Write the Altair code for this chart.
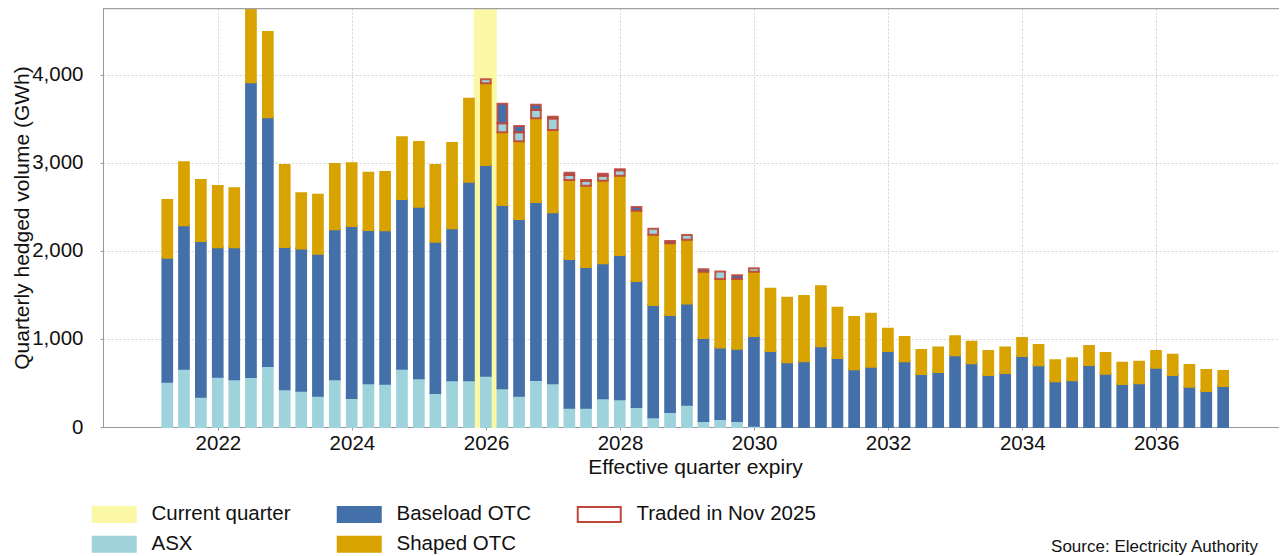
import altair as alt
import pandas as pd

# ---------------- data ----------------
quarter_expiry = [d.strftime("%Y-%m-%d") for d in pd.date_range("2021-03-31", periods=64, freq="QE")]

asx = [515, 663, 345, 572, 542, 568, 693, 428, 413, 356, 542, 330, 496, 492, 663, 553,
       386, 530, 530, 583, 439, 356, 534, 496, 220, 220, 326, 314, 227, 110, 170, 254,
       68, 91, 68, 15, 0, 0, 0, 0, 0, 0, 0, 0, 0, 0, 0, 0,
       0, 0, 0, 0, 0, 0, 0, 0, 0, 0, 0, 0, 0, 0, 0, 0]
baseload = [1409, 1629, 1769, 1470, 1500, 3349, 2826, 1617, 1614, 1614, 1704, 1954, 1743, 1743, 1928, 1951,
            1720, 1728, 2258, 2394, 2084, 2008, 2023, 1943, 1689, 1598, 1534, 1641, 1432, 1276, 1103, 1148,
            943, 811, 822, 1019, 864, 735, 746, 917, 784, 655, 686, 864, 746, 602, 625, 814,
            723, 591, 614, 807, 701, 519, 530, 705, 606, 489, 496, 674, 591, 458, 409, 466]
shaped = [656, 716, 693, 697, 670, 843, 970, 932, 628, 670, 743, 712, 651, 663, 701, 735,
          871, 969, 943, 928, 826, 883, 951, 936, 898, 924, 939, 901, 799, 799, 815, 726,
          754, 780, 792, 731, 708, 735, 743, 682, 572, 595, 602, 253, 277, 273, 277, 216,
          247, 273, 288, 204, 231, 239, 250, 215, 235, 242, 246, 190, 231, 247, 239, 170]
traded_asx = [0] * 19 + [45, 102, 103, 94, 131, 55, 55, 55, 60, 0, 68, 0, 53, 0, 85, 0, 39] + [0] * 28
traded_baseload = [0] * 19 + [0, 223, 70, 60, 20, 28, 10, 25, 13, 42, 0, 26, 0, 27, 0, 42, 0] + [0] * 28

current_quarter = ["2025-11-01", "2026-02-23"]
# legend is filled column by column
series_names = ["Current quarter", "ASX", "Baseload OTC", "Shaped OTC", "Traded in Nov 2025"]
fill_colors = ["#faf7a5", "#9ed3dc", "#4470aa", "#d8a300", "#ffffff"]
stroke_colors = ["#faf7a5", "#9ed3dc", "#4470aa", "#d8a300", "#c0463a"]
source_text = "Source: Electricity Authority"

rows = []
for i, d in enumerate(quarter_expiry):
    rows.append(dict(date=d, series="ASX", value=asx[i], ord=1, traded=False))
    rows.append(dict(date=d, series="Baseload OTC", value=baseload[i], ord=2, traded=False))
    rows.append(dict(date=d, series="Shaped OTC", value=shaped[i], ord=3, traded=False))
    rows.append(dict(date=d, series="ASX", value=traded_asx[i], ord=4, traded=True))
    rows.append(dict(date=d, series="Baseload OTC", value=traded_baseload[i], ord=5, traded=True))
df = pd.DataFrame(rows)

band_df = pd.DataFrame({"start": [current_quarter[0]], "end": [current_quarter[1]], "series": ["Current quarter"]})

# ---------------- style ----------------
W, H = 1176, 419
FONT = "Liberation Sans"
RED = "#c0463a"
SYMBOL = "M-2.867,-1L2.867,-1L2.867,1L-2.867,1Z"

xscale = alt.Scale(type="utc", domain=[alt.DateTime(year=2020, month=5, date=12, utc=True),
                                       alt.DateTime(year=2037, month=10, date=4, utc=True)])
yscale = alt.Scale(domain=[0, 4761], nice=False, zero=True)

xaxis = alt.Axis(values=[alt.DateTime(year=y, month=1, date=1, utc=True) for y in range(2022, 2037, 2)],
                 format="%Y", formatType="utc", title="Effective quarter expiry",
                 titleX=W / 2 + 4, titleY=46, titleBaseline="alphabetic", titleAlign="center",
                 labelPadding=3, labelFlush=False, labelOverlap=False)
yaxis = alt.Axis(values=[0, 1000, 2000, 3000, 4000], format=",d", title="Quarterly hedged volume (GWh)",
                 titleX=-81, titleY=H / 2, titleAngle=-90, titleAlign="center", titleBaseline="middle",
                 labelPadding=17, labelFlush=False)

legend = alt.Legend(title=None, orient="none", legendX=1, legendY=496, columns=3, columnPadding=42,
                    rowPadding=6, symbolType=SYMBOL, symbolSize=225, labelFontSize=20.5, labelFont=FONT,
                    labelColor="#111111", labelOffset=27, labelLimit=400, padding=0,
                    symbolStrokeWidth=2, gridAlign="each")
fill_scale = alt.Scale(domain=series_names, range=fill_colors)
stroke_scale = alt.Scale(domain=series_names, range=stroke_colors)

base = (alt.Chart(df)
        .transform_filter("datum.value > 0")
        .transform_stack(stack="value", groupby=["date"], as_=["y0", "y1"],
                         sort=[alt.SortField("ord", order="ascending")]))

band = alt.Chart(band_df).mark_rect(strokeWidth=2).encode(
    x=alt.X("start:T", scale=xscale, axis=xaxis),
    x2="end:T",
    y=alt.value(0), y2=alt.value(H),
    fill=alt.Fill("series:N", scale=fill_scale, legend=legend),
    stroke=alt.Stroke("series:N", scale=stroke_scale, legend=legend),
)

main = base.transform_filter("!datum.traded").mark_bar(width=9.7, strokeWidth=2).encode(
    x=alt.X("date:T", scale=xscale, axis=xaxis),
    y=alt.Y("y1:Q", scale=yscale, axis=yaxis),
    y2="y0:Q",
    fill=alt.Fill("series:N", scale=fill_scale, legend=legend),
    stroke=alt.Stroke("series:N", scale=stroke_scale, legend=legend),
)

traded = base.transform_filter("datum.traded").mark_bar(width=9.7, stroke=RED, strokeWidth=2,
                                                        strokeOpacity=0.9).encode(
    x=alt.X("date:T", scale=xscale, axis=xaxis),
    y=alt.Y("y1:Q", scale=yscale, axis=yaxis),
    y2="y0:Q",
    fill=alt.Fill("series:N", scale=fill_scale, legend=None),
)

top_line = alt.Chart(pd.DataFrame({"a": [0]})).mark_rule(color="#a0a0a0", strokeWidth=1.5).encode(
    x=alt.value(0), x2=alt.value(W), y=alt.value(0.5))

source = alt.Chart(pd.DataFrame({"t": [source_text]})).mark_text(
    align="right", baseline="alphabetic", fontSize=17, font=FONT, color="#111111").encode(
    text="t:N", x=alt.value(1155), y=alt.value(544))

chart = (alt.layer(band, main, traded, top_line, source)
         .properties(width=W, height=H,
                     padding={"left": 95, "top": 0, "right": 0, "bottom": 129},
                     autosize=alt.AutoSizeParams(type="none"))
         .configure_view(stroke=None)
         .configure_axis(labelFont=FONT, titleFont=FONT, labelFontSize=20.5, titleFontSize=21,
                         titleFontWeight="normal", labelColor="#111111", titleColor="#111111",
                         domainColor="#999999", tickColor="#999999", tickSize=3,
                         gridColor="#c8c8c8", gridDash=[2, 2], gridOpacity=0.8, zindex=1))

chart.save("out.html", embed_options={"renderer": "svg", "actions": False})
